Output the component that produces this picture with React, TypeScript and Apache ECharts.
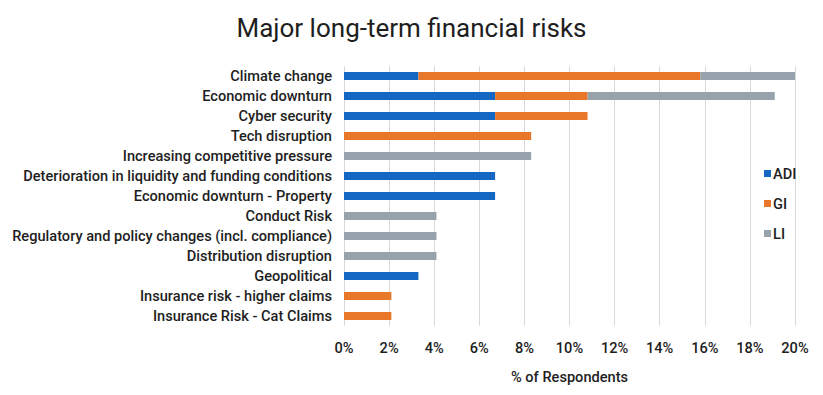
import React, { useEffect, useRef } from "react";
import * as echarts from "echarts";

const categories = [
  "Climate change",
  "Economic downturn",
  "Cyber security",
  "Tech disruption",
  "Increasing competitive pressure",
  "Deterioration in liquidity and funding conditions",
  "Economic downturn - Property",
  "Conduct Risk",
  "Regulatory and policy changes (incl. compliance)",
  "Distribution disruption",
  "Geopolitical",
  "Insurance risk - higher claims",
  "Insurance Risk - Cat Claims",
];

const adiValues = [3.3, 6.7, 6.7, 0, 0, 6.7, 6.7, 0, 0, 0, 3.3, 0, 0];
const giValues = [12.5, 4.1, 4.1, 8.3, 0, 0, 0, 0, 0, 0, 0, 2.1, 2.1];
const liValues = [4.2, 8.3, 0, 0, 8.3, 0, 0, 4.1, 4.1, 4.1, 0, 0, 0];

const xTicks = { min: 0, max: 20, interval: 2 };

const FONT = "Roboto, 'Noto Sans', sans-serif";

export default function App() {
  const ref = useRef<HTMLDivElement>(null);
  useEffect(() => {
    if (!ref.current) return;
    const chart = echarts.init(ref.current, undefined, { renderer: "svg" });
    const mk = (name: string, data: number[], color: string) => ({
      name,
      type: "bar",
      stack: "total",
      data: data.map((v) => (v === 0 ? null : v)),
      barWidth: 8,
      itemStyle: { color },
    });
    const label = { fontFamily: FONT, fontSize: 14.6, fontWeight: 500, color: "#1e1e1e" };
    chart.setOption({
      animation: false,
      textStyle: { fontFamily: FONT },
      title: {
        text: "Major long-term financial risks",
        left: "center",
        top: 10,
        textStyle: { fontFamily: FONT, fontSize: 26, fontWeight: "normal", color: "#1e1e1e" },
      },
      legend: {
        orient: "vertical",
        left: 759,
        top: 161,
        itemWidth: 7,
        itemHeight: 7,
        itemGap: 15,
        icon: "rect",
        textStyle: { ...label, padding: [0, 0, 0, -3] },
        data: ["ADI", "GI", "LI"],
      },
      grid: { left: 344, right: 28, top: 66, bottom: 69, containLabel: false },
      xAxis: {
        type: "value",
        min: xTicks.min,
        max: xTicks.max,
        interval: xTicks.interval,
        axisLine: { show: false },
        axisTick: { show: false },
        splitLine: { lineStyle: { color: "#d9d9d9", width: 1 } },
        axisLabel: { ...label, formatter: "{value}%", margin: 14 },
        name: "% of Respondents",
        nameLocation: "middle",
        nameGap: 43,
        nameTextStyle: label,
      },
      yAxis: {
        type: "category",
        inverse: true,
        data: categories,
        axisLine: { show: false },
        axisTick: { show: false },
        axisLabel: { ...label, margin: 12 },
      },
      series: [
        mk("ADI", adiValues, "#1468c3"),
        mk("GI", giValues, "#e8772a"),
        mk("LI", liValues, "#98a2ac"),
      ],
    });
    return () => chart.dispose();
  }, []);
  return (
    <div
      ref={ref}
      style={{ position: "fixed", left: 0, top: 0, width: 823, height: 395, background: "#fff" }}
    />
  );
}
